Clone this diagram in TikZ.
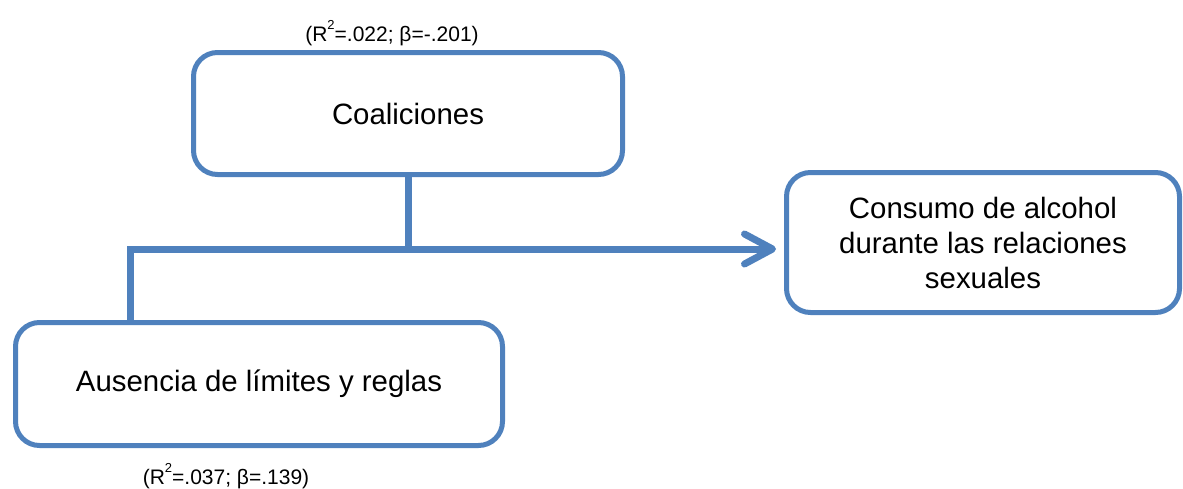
\documentclass[tikz,border=0pt]{standalone}
\usepackage{fontspec}
\setmainfont{Liberation Sans}
\usetikzlibrary{arrows.meta}
\definecolor{officeblue}{RGB}{79,129,189}
\newcommand{\rsq}{R\raisebox{1.1ex}{\fontsize{6.5}{6.5}\selectfont 2}}

\begin{document}
\begin{tikzpicture}[x=0.5pt,y=-0.5pt]
      \tikzstyle{varbox}=[draw=officeblue,line width=2.5pt,rounded corners=12pt,fill=white,
        font=\fontsize{14.7}{17.5}\selectfont,align=center,inner sep=0pt]
      \tikzstyle{link}=[draw=officeblue,line width=3.5pt]
      \tikzstyle{stat}=[font=\fontsize{10.5}{12}\selectfont,inner sep=0pt]
      \useasboundingbox (0,0) rectangle (1183,488);
      \node[varbox,minimum width=214.5pt,minimum height=61pt] (coal) at (408,113.5) {Coaliciones};
      \node[varbox,minimum width=243.5pt,minimum height=61.5pt] (ausen) at (259,384) {Ausencia de límites y reglas};
      \node[varbox,minimum width=196.5pt,minimum height=70pt] (consumo) at (983,242.5) {Consumo de alcohol\\durante las relaciones\\sexuales};
      \node[stat] (coalstat) at (392,33) {(\rsq=.022; β=-.201)};
      \node[stat] (ausenstat) at (226,476) {(\rsq=.037; β=.139)};
      \coordinate (corner) at (130,249);
      \draw[link] (coal.south) -- (coal.south |- corner);
      \draw[link,-{Straight Barb[length=14pt,width=15pt,round]},shorten >=4pt]
        (ausen.north -| corner) -- (corner) -- (consumo.west |- corner);
    \end{tikzpicture}
\end{document}
